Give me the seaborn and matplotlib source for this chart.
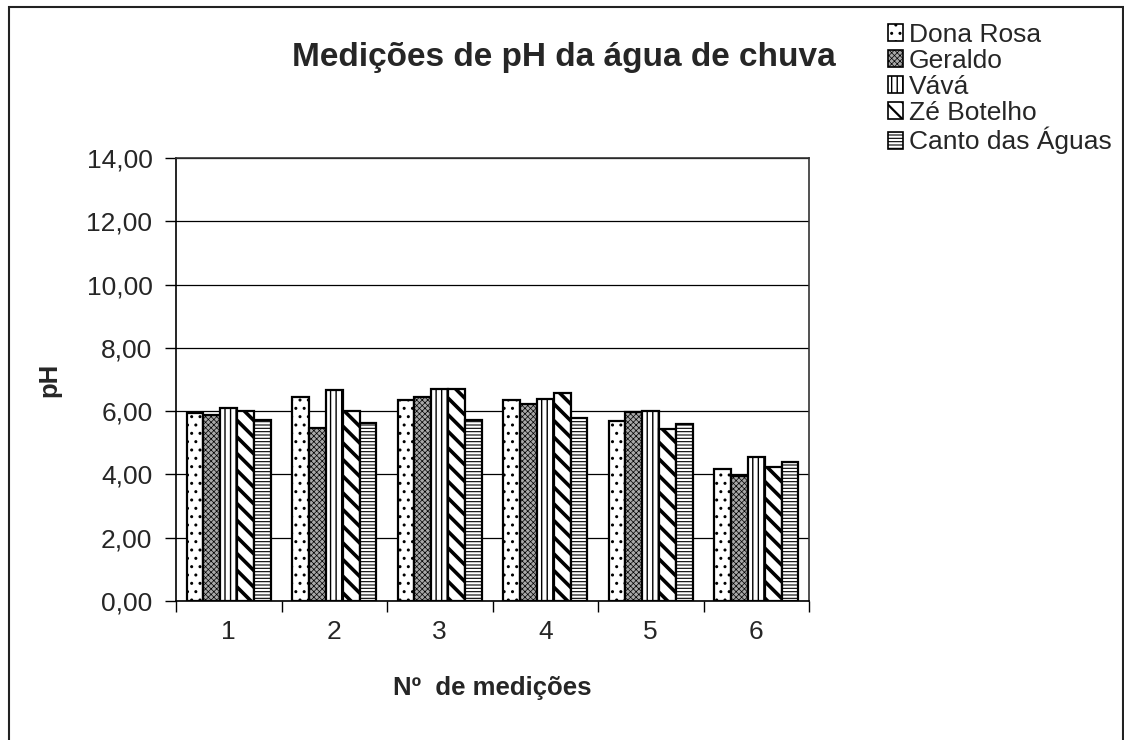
import matplotlib
matplotlib.use('Agg')
import pandas as pd
import matplotlib.pyplot as plt
import seaborn as sns
from matplotlib.patches import Rectangle, Patch

# data
medicoes = ['1', '2', '3', '4', '5', '6']
locais = ['Dona Rosa', 'Geraldo', 'Vává', 'Zé Botelho', 'Canto das Águas']
dona_rosa = [5.93, 6.44, 6.34, 6.34, 5.68, 4.18]
geraldo = [5.88, 5.47, 6.44, 6.24, 5.97, 3.94]
vava = [6.09, 6.68, 6.70, 6.39, 6.02, 4.55]
ze_botelho = [6.02, 6.02, 6.70, 6.57, 5.43, 4.23]
canto_aguas = [5.72, 5.62, 5.73, 5.79, 5.59, 4.40]
y_ticks = [0, 2, 4, 6, 8, 10, 12, 14]

valores = [dona_rosa, geraldo, vava, ze_botelho, canto_aguas]
df = pd.DataFrame({
    'medicao': medicoes * len(locais),
    'local': [l for l in locais for _ in medicoes],
    'ph': [v for serie in valores for v in serie],
})

# fill + hatch styles per series
faces = ['white', '#a8a8a8', 'white', 'white', 'white']
hatches = ['..', 'xxxxxx', '|||', '\\\\', '-----']
hatch_lw = [1.0, 0.5, 1.0, 2.6, 0.8]

sns.set_style('white')
plt.rcParams['font.family'] = ['Liberation Sans', 'DejaVu Sans']

fig = plt.figure(figsize=(11.24, 7.40), dpi=100)
ax = fig.add_axes([176 / 1124, 139 / 740, 633 / 1124, 443 / 740])

sns.barplot(data=df, x='medicao', y='ph', hue='local', order=medicoes,
            hue_order=locais, palette=faces, width=0.8, edgecolor='black',
            linewidth=1.6, legend=False, ax=ax, errorbar=None)

for cont, h, lw in zip(ax.containers, hatches, hatch_lw):
    for bar in cont:
        bar.set_hatch(h)
        if hasattr(bar, 'set_hatch_linewidth'):
            bar.set_hatch_linewidth(lw)

ax.set_ylim(0, 14)
ax.set_xlim(-0.5, len(medicoes) - 0.5)
ax.set_yticks(y_ticks)
ax.set_yticklabels([f'{t:.2f}'.replace('.', ',') for t in y_ticks], fontsize=19)
ax.yaxis.grid(True, color='black', linewidth=0.9)
ax.set_axisbelow(True)

# ticks between groups, labels centred
ax.set_xticks([i - 0.5 for i in range(len(medicoes) + 1)])
ax.set_xticklabels([])
ax.set_xticks(range(len(medicoes)), minor=True)
ax.set_xticklabels(medicoes, minor=True, fontsize=19)
ax.tick_params(axis='x', which='minor', length=0, pad=14)
ax.tick_params(axis='both', which='major', direction='out', length=8, width=1,
               color='black', left=True, bottom=True)
ax.tick_params(axis='y', pad=9)

for side in ['left', 'bottom']:
    ax.spines[side].set_color('black')
    ax.spines[side].set_linewidth(1.2)
for side in ['top', 'right']:
    ax.spines[side].set_color('#333333')
    ax.spines[side].set_linewidth(1.2)

ax.set_xlabel('Nº  de medições', fontsize=18.5, fontweight='bold', labelpad=23)
ax.set_ylabel('pH', fontsize=18.5, fontweight='bold', labelpad=18)

fig.text(0.502, 0.922, 'Medições de pH da água de chuva', ha='center', va='center',
         fontsize=24, fontweight='bold')

handles = [Patch(facecolor=f, edgecolor='black', hatch=h, linewidth=1.2)
           for f, h in zip(faces, hatches)]
leg = fig.legend(handles, locais, loc='upper left', bbox_to_anchor=(877 / 1124, 1 - 12 / 740),
                 frameon=False, fontsize=19, handlelength=0.6, handleheight=0.6,
                 handletextpad=0.2, labelspacing=0.08, borderaxespad=0)
for patch, lw in zip(leg.get_patches(), hatch_lw):
    if hasattr(patch, 'set_hatch_linewidth'):
        patch.set_hatch_linewidth(min(lw, 1.6))

# outer frame of the chart area
fig.patches.append(Rectangle((8.5 / 1124, -0.05), (1123 - 8.5) / 1124, 1.05 - 7.5 / 740,
                             transform=fig.transFigure, fill=False, edgecolor='#222222',
                             linewidth=1.5))

fig.savefig('out.png', dpi=100)
